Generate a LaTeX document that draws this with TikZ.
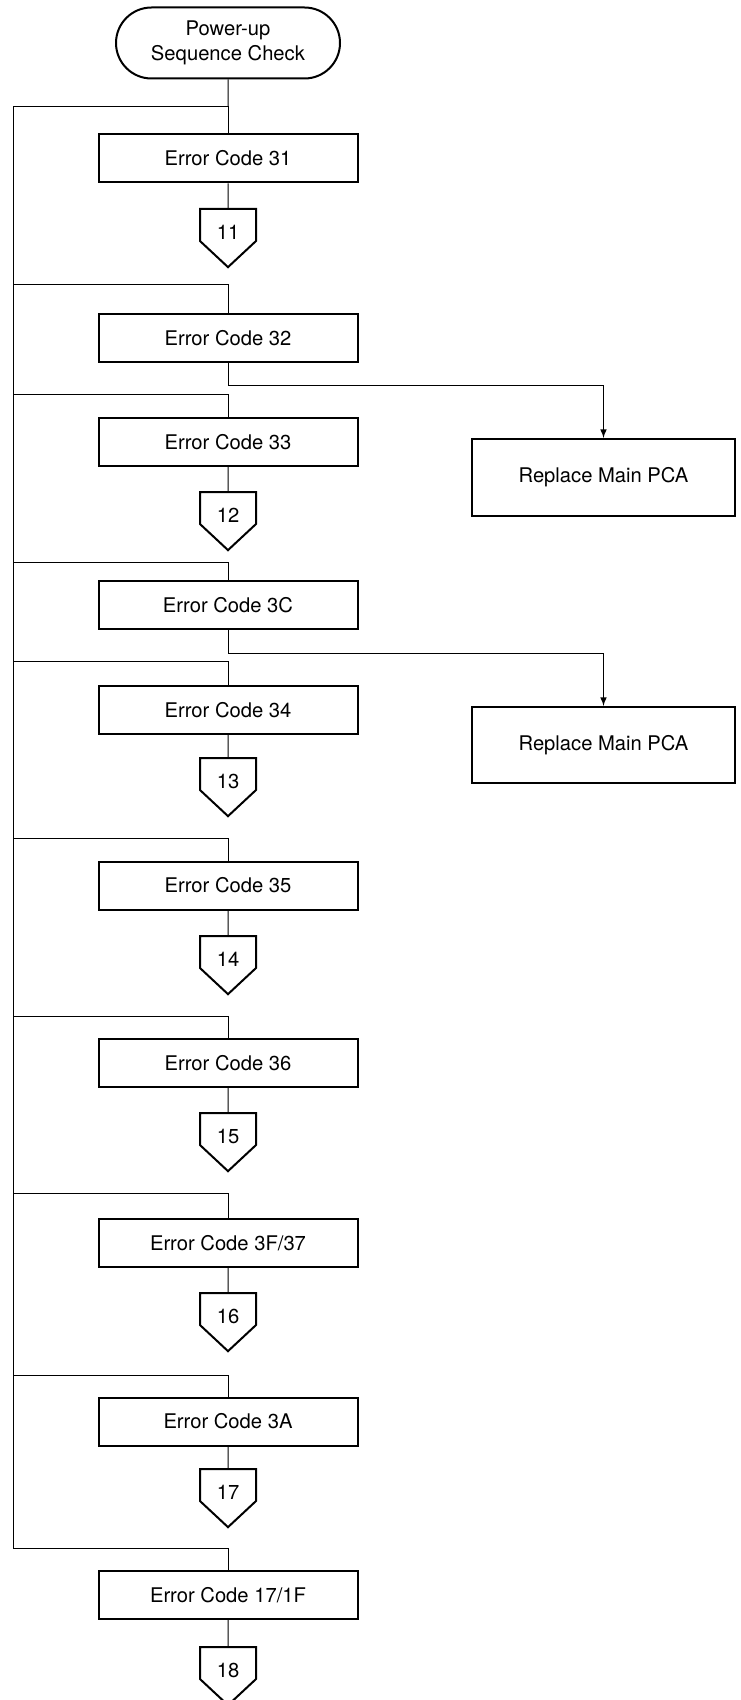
\documentclass[tikz,border=0pt]{standalone}
\usepackage{fontspec}
\setmainfont{TeX Gyre Heros}
\usetikzlibrary{shapes.misc,shapes.symbols,positioning,arrows}

\tikzset{
	box/.style={draw, line width=1pt, minimum width=129.5pt, minimum height=24pt, inner sep=0pt},
	term/.style={draw, rounded rectangle, line width=1pt, minimum width=112pt, minimum height=35.5pt, align=center, inner sep=0pt},
	offpage/.style={draw, signal, signal to=south, signal pointer angle=94, line width=1pt, minimum width=28pt, minimum height=21.25pt, inner sep=0pt, text height=14pt, text depth=0pt, anchor=north},
	wire/.style={line width=0.5pt},
}

\begin{document}
\begin{tikzpicture}[x=0.5pt, y=-0.5pt, font=\fontsize{10.1}{12.5}\selectfont]
	\useasboundingbox (0,0) rectangle (740,1700);

	\def\xL{13}
	\def\xM{228}
	\def\xR{603.5}

	% start
	\node[term] (start) at (\xM, 43) {Power-up\\Sequence Check};
	\draw[wire] (start) -- (\xM, 107) coordinate (j31);

	% error codes, each fed from the return line on the left
	\foreach \name/\code/\yb/\yj in {
		31/31/158.5/107, 32/32/338.5/285, 33/33/442/395, 3C/3C/605/562,
		34/34/710/661, 35/35/885.5/838, 36/36/1063/1016,
		3F37/3F\slash37/1243/1193, 3A/3A/1421.5/1375, 171F/17\slash1F/1595/1548}{
		\node[box] (e\name) at (\xM, \yb) {Error Code \code};
		\coordinate (j\name) at (\xM, \yj);
		\coordinate (l\name) at (\xL, \yj);
		\draw[wire] (l\name) -- (j\name) -- (e\name);
	}
	\draw[line width=0.4pt] (l31) -- (l171F);

	% off-page connectors
	\foreach \from/\num/\yp in {
		31/11/208, 33/12/491, 34/13/757, 35/14/935,
		36/15/1112, 3F37/16/1292, 3A/17/1468, 171F/18/1646}{
		\node[offpage] (p\num) at (\xM, \yp) {\num};
		\draw[wire] (e\from) -- (p\num);
	}

	% replace main PCA
	\node[box, minimum width=131.5pt, minimum height=38.5pt] (pca1) at (\xR, 477.5) {Replace Main PCA};
	\node[box, minimum width=131.5pt, minimum height=38pt] (pca2) at (\xR, 745) {Replace Main PCA};
	\coordinate (b32) at (\xM, 386);
	\coordinate (b3C) at (\xM, 653);
	\draw[wire, -latex] (e32) -- (b32) -| (pca1);
	\draw[wire, -latex] (e3C) -- (b3C) -| (pca2);

\end{tikzpicture}
\end{document}
